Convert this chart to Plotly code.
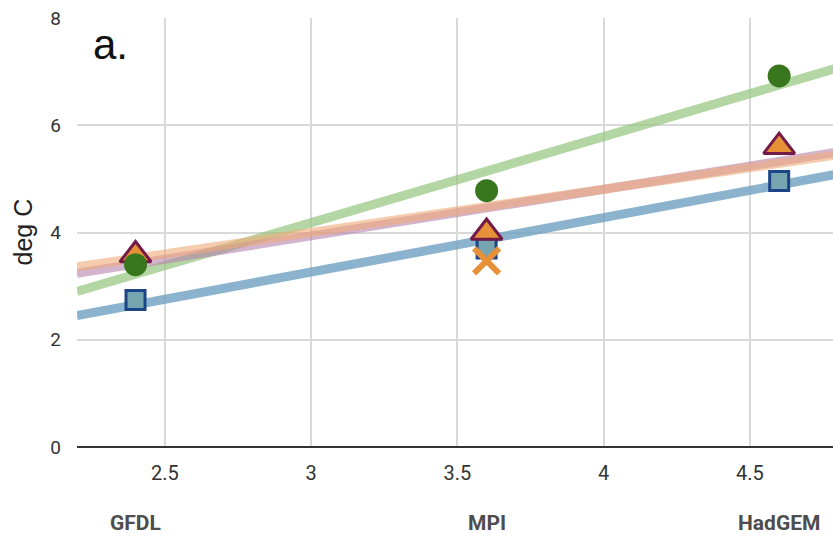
import plotly.graph_objects as go

# Climate sensitivity (x) for each model and the warming (deg C) of four series
models = ["GFDL", "MPI", "HadGEM"]
model_x = [2.4, 3.6, 4.6]

circle_vals = [3.40, 4.78, 6.92]
triangle_vals = [3.58, 4.00, 5.60]
square_vals = [2.74, 3.70, 4.96]
cross_vals = [None, 3.47, None]

# Linear trend lines: (value at x=2.2, value at x=4.8)
trend_green = [2.90, 7.07]
trend_orange = [3.36, 5.45]
trend_purple = [3.24, 5.50]
trend_blue = [2.45, 5.09]
trend_x = [2.2, 4.8]

x_ticks = [2.5, 3, 3.5, 4, 4.5]
y_ticks = [0, 2, 4, 6, 8]

fig = go.Figure()

def trend(vals, color):
    fig.add_trace(go.Scatter(
        x=trend_x, y=vals, mode="lines",
        line=dict(color=color, width=9),
        hoverinfo="skip", showlegend=False))

trend(trend_green, "rgba(147,196,125,0.7)")
trend(trend_blue, "rgba(111,160,192,0.8)")
trend(trend_purple, "rgba(180,130,170,0.6)")
trend(trend_orange, "rgba(240,170,120,0.6)")

fig.add_trace(go.Scatter(
    x=model_x, y=square_vals, mode="markers",
    marker=dict(symbol="square", size=19, color="#76a5af",
                line=dict(color="#1c4587", width=3)),
    showlegend=False))
fig.add_trace(go.Scatter(
    x=model_x, y=triangle_vals, mode="markers",
    marker=dict(symbol="triangle-up", size=27, color="#e69138",
                line=dict(color="#741b47", width=3)),
    showlegend=False))
fig.add_trace(go.Scatter(
    x=model_x, y=cross_vals, mode="markers",
    marker=dict(symbol="x-thin-open", size=25, color="#e69138",
                line=dict(color="#e69138", width=6)),
    showlegend=False))
fig.add_trace(go.Scatter(
    x=model_x, y=circle_vals, mode="markers",
    marker=dict(symbol="circle", size=23, color="#38761d",
                line=dict(width=0)),
    showlegend=False))

# Model names under the axis
for name, xv in zip(models, model_x):
    fig.add_annotation(
        x=xv, y=-0.178, xref="x", yref="paper", text=f"<b>{name}</b>",
        showarrow=False, xanchor="center", yanchor="middle",
        font=dict(family="Roboto", size=21, color="#4d4d4d"))

# Panel label
fig.add_annotation(
    x=0.0, y=1.0, xref="paper", yref="paper", text="a.",
    xshift=14, yshift=-1,
    showarrow=False, xanchor="left", yanchor="top",
    font=dict(family="Liberation Sans, Arial", size=42, color="#111111"))

# Y-axis title
fig.add_annotation(
    x=0.0, y=0.5, xref="paper", yref="paper", text="deg C",
    xshift=-55, textangle=-90,
    showarrow=False, xanchor="center", yanchor="middle",
    font=dict(family="Liberation Sans, Arial", size=25, color="#222222"))

fig.update_layout(
    width=833, height=537,
    margin=dict(l=77, r=0, t=18, b=90),
    paper_bgcolor="white", plot_bgcolor="white",
    xaxis=dict(range=[2.2, 4.784], tickvals=x_ticks,
               ticktext=[str(t) for t in x_ticks],
               showgrid=True, gridcolor="#d9d9d9", gridwidth=1.5,
               zeroline=False, showline=False, ticks="",
               tickfont=dict(family="Roboto", size=20, color="#333333"),
               ticklabelstandoff=12, fixedrange=True),
    yaxis=dict(range=[0, 8], tickvals=y_ticks,
               showgrid=True, gridcolor="#d9d9d9", gridwidth=1.5,
               zeroline=True, zerolinecolor="#333333", zerolinewidth=2,
               showline=False, ticks="",
               tickfont=dict(family="Roboto", size=19, color="#333333"),
               ticklabelstandoff=15, fixedrange=True),
)

fig.write_html("out.html")
